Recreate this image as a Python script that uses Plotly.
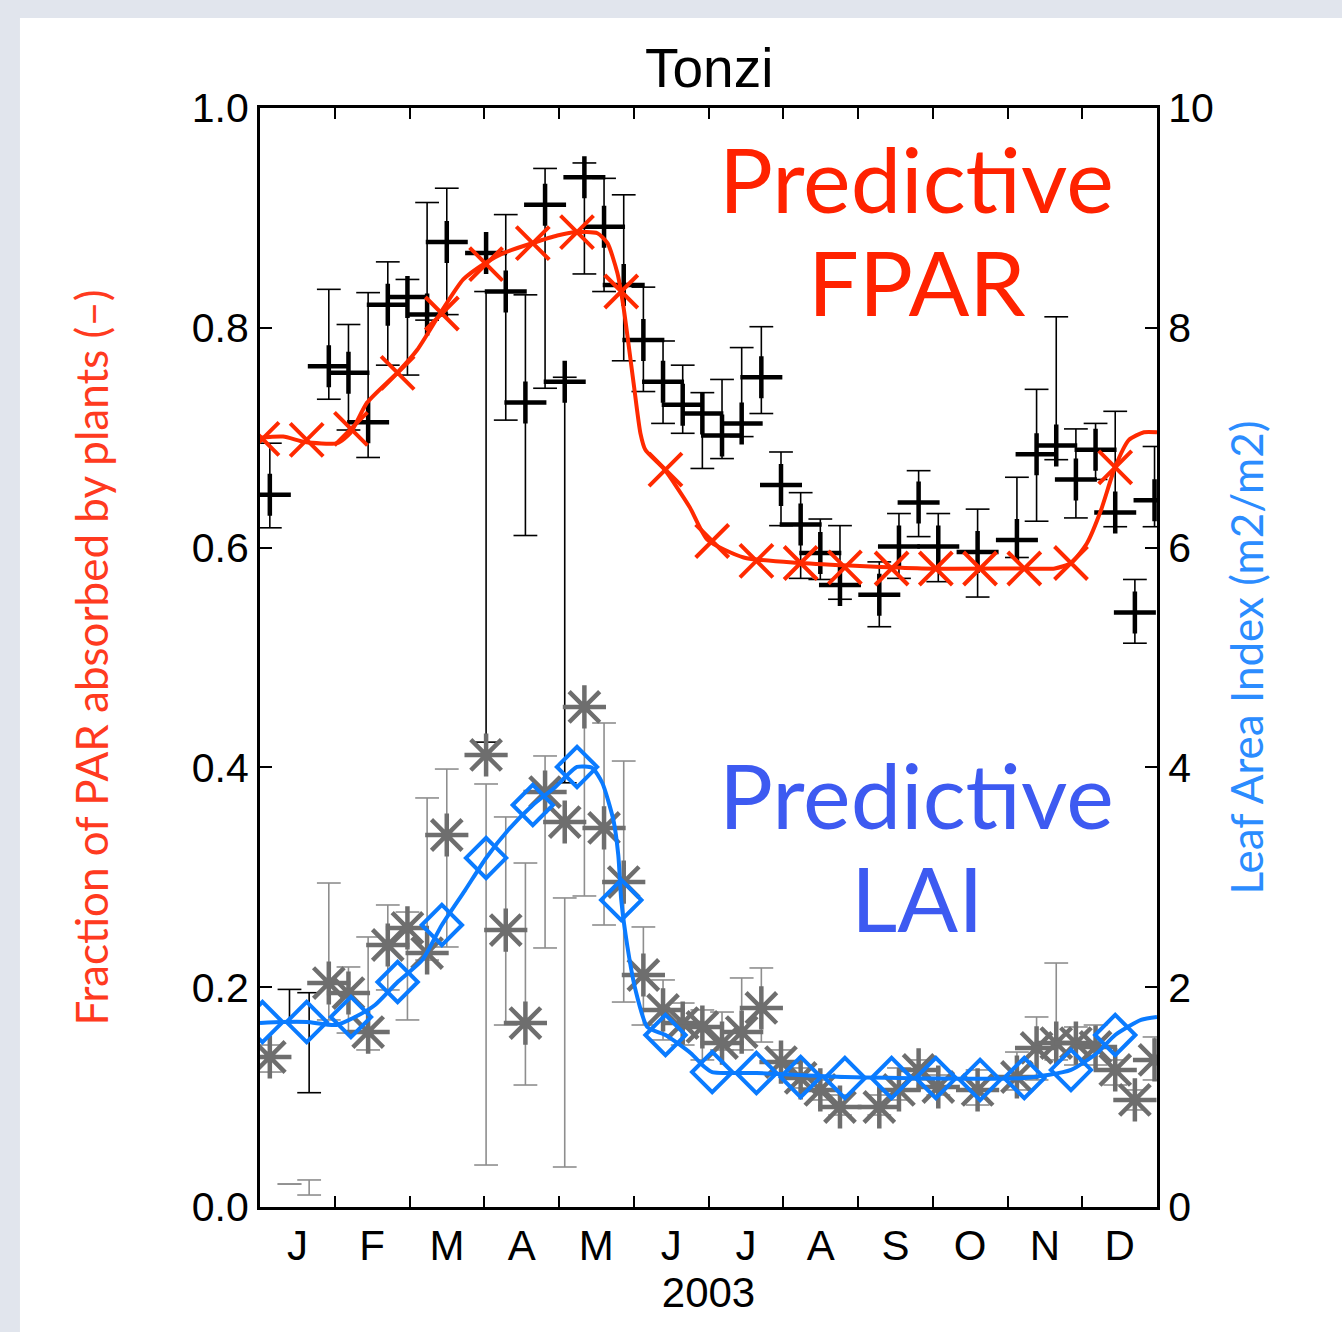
import plotly.graph_objects as go

# ---------------- data ----------------
month_labels = ["J", "F", "M", "A", "M", "J", "J", "A", "S", "O", "N", "D"]
year_label = "2003"
site_title = "Tonzi"

# model (predictive) dates, FPAR and LAI markers
model_days = [1, 19, 37, 56, 74, 92, 111, 129, 147, 165, 184, 202, 220, 238, 257, 275, 293, 311, 330, 348]
model_fpar = [0.699, 0.698, 0.708, 0.759, 0.813, 0.858, 0.877, 0.887, 0.833, 0.671,
              0.606, 0.588, 0.586, 0.582, 0.581, 0.581, 0.581, 0.581, 0.586, 0.673]
model_lai = [1.683, 1.683, 1.729, 2.047, 2.566, 3.176, 3.658, 4.004, 2.793, 1.565,
             1.228, 1.219, 1.183, 1.174, 1.174, 1.174, 1.156, 1.174, 1.247, 1.565]

# continuous model curves
fpar_curve_days = [0, 9.4, 18.3, 31.4, 36.7, 43.6, 55.8, 64.0, 73.3, 82.7, 91.7, 99.0, 110.8, 121.0,
                   128.3, 137.3, 141.4, 145.4, 147.9, 152.0, 154.8, 156.8, 164.6, 174.8, 182.1,
                   196.8, 220.0, 269.3, 310.0, 323.4, 330.0, 336.5, 342.2, 347.9, 353.6, 359.7, 365]
fpar_curve = [0.700, 0.701, 0.696, 0.695, 0.704, 0.732, 0.759, 0.780, 0.813, 0.844, 0.859, 0.868,
              0.877, 0.884, 0.887, 0.886, 0.877, 0.850, 0.819, 0.750, 0.704, 0.689, 0.671, 0.637,
              0.607, 0.591, 0.586, 0.581, 0.581, 0.581, 0.586, 0.604, 0.634, 0.673, 0.698, 0.705, 0.705]

lai_curve_days = [0, 9, 19, 31, 38.7, 46.8, 56, 66, 74, 83.5, 92, 101, 111, 120.2, 129, 135.2, 139.3,
                  143.8, 145.8, 147, 149.5, 152.8, 157.6, 165, 175.2, 180.9, 184, 202, 238, 311,
                  330, 340.6, 348, 358.5, 365]
lai_curve = [1.674, 1.683, 1.683, 1.656, 1.729, 1.838, 2.047, 2.247, 2.566, 2.884, 3.176, 3.430,
             3.658, 3.822, 4.004, 3.995, 3.858, 3.521, 3.200, 2.793, 2.370, 1.974, 1.638, 1.565,
             1.401, 1.274, 1.228, 1.219, 1.183, 1.174, 1.247, 1.401, 1.565, 1.702, 1.729]

# observed (8-day) FPAR and LAI with their error bars
obs_days = [4, 28, 36, 44, 52, 60, 68, 76, 92, 100, 108, 116, 124, 132, 140, 148, 156, 164,
            172, 180, 188, 196, 204, 212, 220, 228, 236, 252, 260, 268, 276, 292,
            308, 316, 324, 332, 340, 348, 356, 364]
fpar_obs = [0.648, 0.765, 0.759, 0.714, 0.821, 0.828, 0.812, 0.878,
            0.868, 0.833, 0.732, 0.912, 0.751, 0.937, 0.892, 0.839, 0.789, 0.751,
            0.730, 0.722, 0.702, 0.713, 0.755, 0.657, 0.621, 0.595, 0.566,
            0.557, 0.601, 0.641, 0.601, 0.596,
            0.607, 0.685, 0.693, 0.662, 0.689, 0.632, 0.541, 0.643]
fpar_hi = [0.695, 0.835, 0.803, 0.832, 0.860, 0.844, 0.914, 0.927,
           0.833, 0.903, 0.830, 0.945, 0.755, 0.950, 0.936, 0.921, 0.837, 0.788,
           0.766, 0.741, 0.753, 0.782, 0.801, 0.687, 0.650, 0.626, 0.620,
           0.587, 0.631, 0.670, 0.631, 0.635,
           0.664, 0.744, 0.810, 0.708, 0.713, 0.724, 0.571, 0.692]
fpar_lo = [0.618, 0.735, 0.707, 0.682, 0.766, 0.757, 0.807, 0.812,
           0.423, 0.716, 0.611, 0.745, 0.386, 0.849, 0.833, 0.770, 0.742, 0.713,
           0.704, 0.672, 0.681, 0.701, 0.722, 0.620, 0.572, 0.571, 0.553,
           0.528, 0.572, 0.610, 0.569, 0.555,
           0.591, 0.624, 0.680, 0.627, 0.662, 0.619, 0.513, 0.619]

lai_obs = [1.365, 2.038, 1.947, 1.592, 2.384, 2.539, 2.311, 3.385,
           4.113, 2.520, 1.674, 3.776, 3.503, 4.550, 3.449, 2.957, 2.111, 1.793,
           1.674, 1.638, 1.492, 1.592, 1.811, 1.319, 1.174, 1.065, 0.910,
           0.910, 1.065, 1.247, 1.092, 1.065,
           1.183, 1.447, 1.492, 1.492, 1.456, 1.247, 0.974, 1.338]
lai_hi = [1.474, 2.948, 2.184, 2.457, 2.748, 2.684, 3.722, 3.985,
          3.849, 3.549, 3.130, 4.104, 2.812, 4.550, 4.404, 4.058, 2.548, 2.066,
          1.856, 1.793, 1.774, 2.084, 2.175, 1.429, 1.265, 1.156, 1.019,
          1.019, 1.265, 1.338, 1.201, 1.247,
          1.410, 1.729, 2.220, 1.638, 1.656, 1.338, 1.065, 1.547]
lai_lo = [1.228, 1.702, 1.583, 1.429, 1.975, 1.702, 2.247, 2.366,
          0.382, 1.656, 1.110, 2.357, 0.364, 2.830, 2.566, 1.865, 1.656, 1.520,
          1.474, 1.338, 1.429, 1.429, 1.501, 1.201, 1.083, 0.974, 0.837,
          0.837, 0.974, 1.156, 1.019, 0.928,
          1.065, 1.156, 1.338, 1.292, 1.292, 1.110, 0.883, 1.156]

# January composites where only the error bars are visible
bar_only_days = [12, 20]
fpar_bar_only_hi = [0.198, 0.195]
fpar_bar_only_lo = [0.168, 0.104]
lai_bar_only_hi = [0.209, 0.246]
lai_bar_only_lo = [0.209, 0.109]

fpar_ticks = [0.0, 0.2, 0.4, 0.6, 0.8, 1.0]
lai_ticks = [0, 2, 4, 6, 8, 10]

# ---------------- styles ----------------
RED = "#FF2A00"
RED_TXT = "#FF2200"
BLUE = "#0A7BFF"
BLUE_TXT = "#3D5AF1"
GRAY = "#6E6E6E"
GRAY_BAR = "#8E8E8E"
PAGE_BG = "#E1E5ED"
SANS = "Liberation Sans, Arial, sans-serif"
TICKFONT = dict(family=SANS, size=41, color="black")
ann_font = "Lato, Noto Sans, sans-serif"

n_months = len(month_labels)
mlen = 365.0 / n_months
month_edges = [i * mlen for i in range(n_months + 1)]
month_mids = [(i + 0.5) * mlen for i in range(n_months)]


def bar_xy(days, lo, hi):
    xs, ys = [], []
    for d, a, b in zip(days, lo, hi):
        xs += [d, d, None]
        ys += [a, b, None]
    return xs, ys


fig = go.Figure()

# FPAR observation error bars (black)
all_days = obs_days + bar_only_days
bx, by = bar_xy(all_days, fpar_lo + fpar_bar_only_lo, fpar_hi + fpar_bar_only_hi)
fig.add_trace(go.Scatter(x=bx, y=by, mode="lines", line=dict(color="black", width=1.6),
                         hoverinfo="skip", showlegend=False))
fig.add_trace(go.Scatter(x=all_days * 2,
                         y=fpar_lo + fpar_bar_only_lo + fpar_hi + fpar_bar_only_hi,
                         mode="markers", hoverinfo="skip", showlegend=False,
                         marker=dict(symbol="line-ew", size=17, line=dict(color="black", width=1.6))))
# FPAR observations
fig.add_trace(go.Scatter(x=obs_days, y=fpar_obs, mode="markers", showlegend=False,
                         marker=dict(symbol="cross-thin", size=30, color="black",
                                     line=dict(color="black", width=4.5))))
# FPAR model
fig.add_trace(go.Scatter(x=fpar_curve_days, y=fpar_curve, mode="lines", showlegend=False,
                         line=dict(color=RED, width=4, shape="spline", smoothing=0.6)))
fig.add_trace(go.Scatter(x=model_days, y=model_fpar, mode="markers", showlegend=False,
                         marker=dict(symbol="x-thin", size=33, color=RED, line=dict(color=RED, width=4))))

# LAI observation error bars (gray) on right axis
lx, ly = bar_xy(all_days, lai_lo + lai_bar_only_lo, lai_hi + lai_bar_only_hi)
fig.add_trace(go.Scatter(x=lx, y=ly, mode="lines", yaxis="y2", line=dict(color=GRAY_BAR, width=1.6),
                         hoverinfo="skip", showlegend=False))
fig.add_trace(go.Scatter(x=all_days * 2,
                         y=lai_lo + lai_bar_only_lo + lai_hi + lai_bar_only_hi,
                         mode="markers", yaxis="y2", hoverinfo="skip", showlegend=False,
                         marker=dict(symbol="line-ew", size=17, line=dict(color=GRAY_BAR, width=1.6))))
fig.add_trace(go.Scatter(x=obs_days, y=lai_obs, mode="markers", yaxis="y2", showlegend=False,
                         marker=dict(symbol="asterisk", size=36, color=GRAY, line=dict(color=GRAY, width=4.5))))
# LAI model
fig.add_trace(go.Scatter(x=lai_curve_days, y=lai_curve, mode="lines", yaxis="y2", showlegend=False,
                         line=dict(color=BLUE, width=4, shape="spline", smoothing=0.6)))
fig.add_trace(go.Scatter(x=model_days, y=model_lai, mode="markers", yaxis="y2", showlegend=False,
                         marker=dict(symbol="diamond-open", size=31, color=BLUE,
                                     line=dict(color=BLUE, width=4))))

# invisible trace so the mirrored top axis (month tick marks) is drawn
fig.add_trace(go.Scatter(x=[month_edges[0]], y=[fpar_ticks[0]], xaxis="x2", mode="markers",
                         marker=dict(opacity=0), hoverinfo="skip", showlegend=False))

# white card behind the chart
fig.add_shape(type="rect", xref="paper", yref="paper", x0=-0.2676, x1=1.25, y0=-0.2, y1=1.0819,
              fillcolor="white", line=dict(width=0), layer="below")

fig.add_annotation(text="Predictive", x=0.732, y=0.9365, xref="paper", yref="paper", showarrow=False,
                   xanchor="center", yanchor="middle", font=dict(family=ann_font, size=90, color=RED_TXT))
fig.add_annotation(text="FPAR", x=0.732, y=0.8424, xref="paper", yref="paper", showarrow=False,
                   xanchor="center", yanchor="middle", font=dict(family=ann_font, size=90, color=RED_TXT))
fig.add_annotation(text="Predictive", x=0.732, y=0.376, xref="paper", yref="paper", showarrow=False,
                   xanchor="center", yanchor="middle", font=dict(family=ann_font, size=90, color=BLUE_TXT))
fig.add_annotation(text="LAI", x=0.732, y=0.282, xref="paper", yref="paper", showarrow=False,
                   xanchor="center", yanchor="middle", font=dict(family=ann_font, size=90, color=BLUE_TXT))
fig.add_annotation(text=site_title, x=0.5, y=1.0364, xref="paper", yref="paper", showarrow=False,
                   xanchor="center", yanchor="middle", font=dict(family=SANS, size=55, color="black"))

fig.update_layout(
    width=1342, height=1332,
    margin=dict(l=260, r=185, t=108, b=125),
    paper_bgcolor=PAGE_BG,
    plot_bgcolor="white",
    xaxis=dict(range=[0, 365], tickvals=month_mids, ticktext=month_labels, ticks="",
               showline=True, linecolor="black", linewidth=3, mirror=True,
               showgrid=False, zeroline=False, tickfont=dict(TICKFONT, size=42),
               minor=dict(tickvals=month_edges[1:-1], ticks="inside", ticklen=11, tickwidth=2,
                          tickcolor="black", showgrid=False),
               title=dict(text=year_label, font=dict(TICKFONT, size=42), standoff=10)),
    xaxis2=dict(range=[0, 365], overlaying="x", side="top", anchor="y",
                tickvals=month_edges[1:-1], ticks="inside", ticklen=11, tickwidth=2,
                tickcolor="black", showticklabels=False, showline=False,
                showgrid=False, zeroline=False),
    yaxis=dict(range=[0, 1], tickvals=fpar_ticks, tickformat=".1f", ticks="inside", ticklen=12,
               tickwidth=2, tickcolor="black", showline=True, linecolor="black", linewidth=3,
               showgrid=False, zeroline=False, tickfont=TICKFONT,
               title=dict(text="Fraction of PAR absorbed by plants (–)",
                          font=dict(family=ann_font, size=44, color="#FF3A20"), standoff=70)),
    yaxis2=dict(range=[0, 10], tickvals=lai_ticks, ticks="inside", ticklen=12, tickwidth=2,
                tickcolor="black", overlaying="y", side="right", showline=True, linecolor="black",
                linewidth=3, showgrid=False, zeroline=False, tickfont=TICKFONT,
                title=dict(text="Leaf Area Index (m2/m2)",
                           font=dict(family=ann_font, size=44, color="#2B8CFF"), standoff=20)),
)

fig.write_html(
    "out.html",
    config={"displayModeBar": False},
    post_script="document.body.style.margin='0';document.body.style.background='" + PAGE_BG + "';",
)
